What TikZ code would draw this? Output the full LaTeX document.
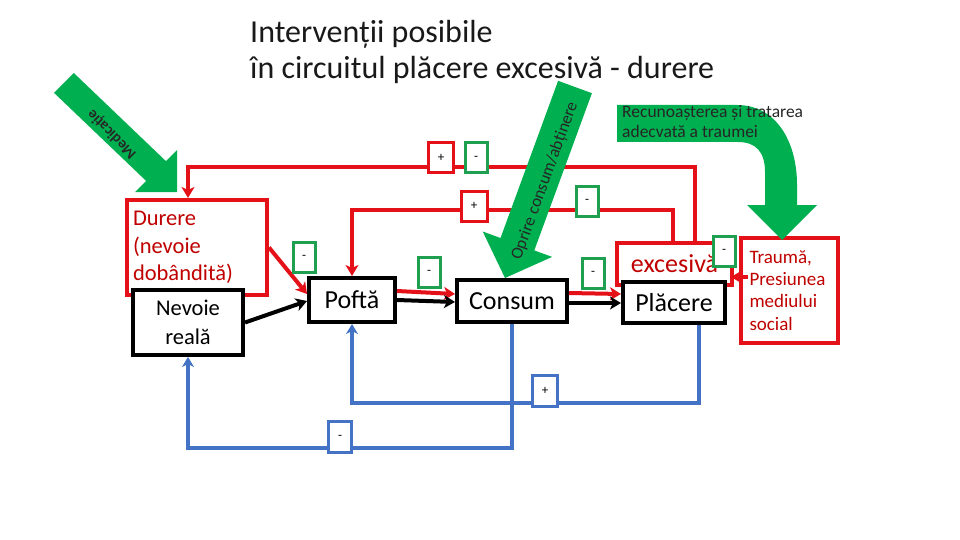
\documentclass[tikz,border=0pt]{standalone}
\usepackage{fontspec}
\setmainfont{Carlito}
\usetikzlibrary{arrows.meta,calc}
\definecolor{lnred}{RGB}{228,18,24}
\definecolor{txred}{RGB}{192,0,0}
\definecolor{ofgreen}{RGB}{0,176,80}
\definecolor{bxgreen}{RGB}{30,160,80}
\definecolor{ofblue}{RGB}{68,114,196}
\tikzset{
  tipr/.style={-{Stealth[length=11pt,width=13pt,inset=3pt]}},
  boxbase/.style={line width=4pt, fill=white, inner sep=0pt},
  blkbox/.style={boxbase, draw=black, font=\fontsize{26}{30}\selectfont},
  redbox/.style={boxbase, draw=lnred, text=txred},
  sbox/.style={line width=3pt, fill=white, inner sep=0pt, minimum width=22pt, minimum height=30pt, font=\fontsize{13}{13}\selectfont},
  gbox/.style={sbox, draw=bxgreen},
  rbox/.style={sbox, draw=lnred, minimum width=25pt},
  bbox/.style={sbox, draw=ofblue, line width=3.5pt, minimum width=23pt, minimum height=31pt},
  redarr/.style={draw=lnred, line width=4pt, tipr},
  blkarr/.style={draw=black, line width=4pt, tipr},
  bluarr/.style={draw=ofblue, line width=3.5pt, -{Stealth[length=10pt,width=12pt,inset=3pt]}},
  bigarrow/.style={fill=ofgreen, draw=none},
  titletxt/.style={anchor=base west, inner sep=0pt, text=black!90, font=\fontsize{32}{36}\selectfont},
  arrtxt/.style={inner sep=0pt, text=black!85},
}
\begin{document}
\begin{tikzpicture}[x=1pt,y=-1pt]
\useasboundingbox (0,0) rectangle (960,540);

% title
\node[titletxt] (t1) at (250,43) {Intervenții posibile};
\node[titletxt] (t2) at (250,79) {în circuitul plăcere excesivă - durere};

% boxes
\node[redbox, inner xsep=6pt, minimum height=95pt, text width=128pt, align=left,
      font=\fontsize{22.5}{27.5}\selectfont] (dur) at (197,247.5) {Durere\\(nevoie\\dobândită)};
\node[blkbox, minimum width=110pt, minimum height=65pt, align=center,
      font=\fontsize{22.5}{29}\selectfont] (nev) at (188,322.5) {Nevoie\\reală};
\node[blkbox, minimum width=86pt, minimum height=44pt] (pof) at (352,300) {Poftă};
\node[blkbox, minimum width=110pt, minimum height=42pt] (con) at (512,301) {Consum};
\node[redbox, minimum width=115pt, minimum height=42pt, font=\fontsize{26}{30}\selectfont] (exc) at (674.5,264) {excesivă};
\node[blkbox, minimum width=102pt, minimum height=41pt] (pla) at (674,302.5) {Plăcere};
\node[redbox, inner xsep=8.5pt, minimum height=105pt, text width=80pt, align=left,
      font=\fontsize{19}{22.3}\selectfont] (tra) at (789.5,290.5) {Traumă,\\Presiunea\\mediului\\social};

% bend points
\coordinate (c1) at (188,167);
\coordinate (c2) at (352,210);
\coordinate (c3) at (188,448);
\coordinate (c4) at (352,403);

% red connectors
\draw[redarr] ([xshift=20.5pt]exc.north) |- (c1) -- (dur.north -| c1);
\draw[redarr] ([xshift=-1.5pt]exc.north) |- (c2) -- (pof.north);
\draw[redarr] (dur.east) -- ([yshift=6pt]pof.west);
\draw[redarr] ([yshift=9pt]pof.east) -- ([yshift=7pt]con.west);
\draw[redarr] ([yshift=8pt]con.east) -- ([yshift=8.5pt]pla.west);
\draw[redarr] ([xshift=9pt,yshift=13.5pt]tra.west) -- ([xshift=-3pt,yshift=-13pt]exc.east);

% black connectors
\draw[blkarr] (nev.east) -- ([yshift=-1pt]pof.west);
\draw[blkarr] (pof.east) -- ([yshift=-1pt]con.west);
\draw[blkarr] ([yshift=-2pt]con.east) -- ([yshift=-0.5pt]pla.west);

% blue connectors
\draw[bluarr] (con.south) |- (c3) -- (nev.south);
\draw[bluarr] ([xshift=25pt]pla.south) |- (c4) -- (pof.south);

% small sign boxes
\node[gbox] (g1) at (304,257) {-};
\node[gbox] (g2) at (429,272) {-};
\node[gbox] (g3) at (593,273) {-};
\node[gbox] (g4) at (587,201) {-};
\node[gbox] (g5) at (476,158) {-};
\node[gbox] (g6) at (724,251) {-};
\node[rbox] (r1) at (441,158) {+};
\node[rbox, minimum width=26pt] (r2) at (474,206) {+};
\node[bbox] (b1) at (340,437) {-};
\node[bbox, minimum width=25pt] (b2) at (545,391) {+};

% green intervention arrows
\fill[bigarrow] (73.9,73.1) -- (165.9,161.1) -- (177.2,149.8) -- (177,192) -- (134.8,192.2) -- (146.1,180.9) -- (54.1,92.9) -- cycle;
\node[arrtxt, rotate=135, font=\bfseries\fontsize{15}{15}\selectfont] (med) at (112,134) {Medicație};

\fill[bigarrow] (591.9,93.2) -- (534.3,250.4) -- (552.1,256.9) -- (505,278) -- (482.7,231.5) -- (500.5,238.0) -- (558.1,80.8) -- cycle;
\node[arrtxt, rotate=70, font=\fontsize{17}{17}\selectfont] (opr) at (545,181) {Oprire consum/abținere};

\fill[bigarrow] (617,105) -- (737,105) .. controls (775,105) and (797,140) .. (797,185) -- (797,205) -- (817,205) -- (782,240) -- (747,205) -- (765,205) -- (765,172) .. controls (765,152) and (756,142) .. (738,142) -- (617,142) -- cycle;
\node[arrtxt, anchor=base west, font=\fontsize{17.5}{17.5}\selectfont] (rec1) at (622,118) {Recunoașterea și tratarea};
\node[arrtxt, anchor=base west, font=\fontsize{17.5}{17.5}\selectfont] (rec2) at (622,138) {adecvată a traumei};
\end{tikzpicture}
\end{document}
